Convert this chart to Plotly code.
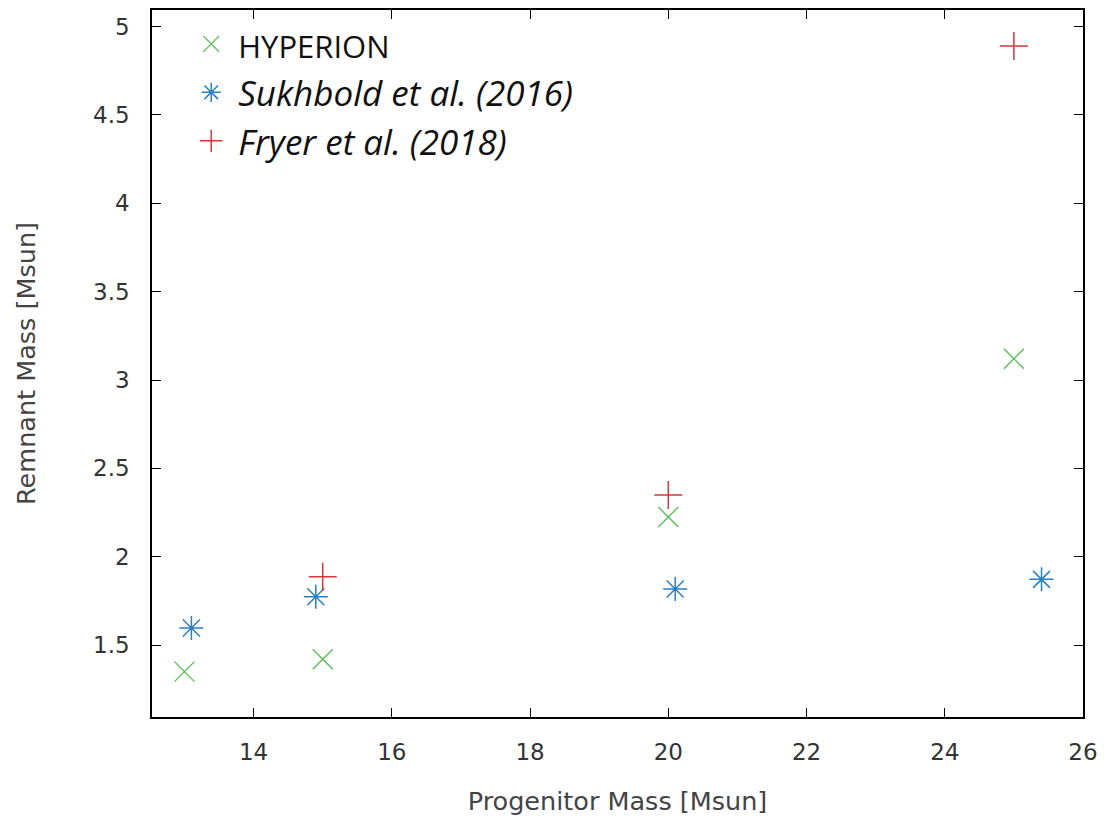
import plotly.graph_objects as go

# Data
hyp_x = [13, 15, 20, 25]
hyp_y = [1.35, 1.42, 2.225, 3.12]
suk_x = [13.1, 14.9, 20.1, 25.4]
suk_y = [1.597, 1.773, 1.817, 1.872]
fry_x = [15, 20, 25]
fry_y = [1.887, 2.349, 4.89]

series_names = ["HYPERION", "Sukhbold et al. (2016)", "Fryer et al. (2018)"]

x_ticks = [14, 16, 18, 20, 22, 24, 26]
y_ticks = [1.5, 2, 2.5, 3, 3.5, 4, 4.5, 5]
y_ticktext = ["1.5", "2", "2.5", "3", "3.5", "4", "4.5", "5"]

green = "#52bb52"
blue = "#2a7fc4"
red = "#d03a3a"

fig = go.Figure()
fig.add_trace(go.Scatter(
    x=hyp_x, y=hyp_y, mode="markers",
    name="<span style='font-size:31px'>" + series_names[0] + "</span>", legendgroup="a",
    marker=dict(symbol="x-thin", size=20, line=dict(color=green, width=1.3), color=green)))
fig.add_trace(go.Scatter(
    x=suk_x, y=suk_y, mode="markers", name="<i>" + series_names[1] + "</i>", legendgroup="b",
    marker=dict(symbol="asterisk", size=20, line=dict(color=blue, width=1.5), color=blue)))
fig.add_trace(go.Scatter(
    x=fry_x, y=fry_y, mode="markers", name="<i>" + series_names[2] + "</i>", legendgroup="c",
    marker=dict(symbol="cross-thin", size=20, line=dict(color=red, width=1.5), color=red)))

axis_common = dict(
    showline=True, linecolor="black", linewidth=1.5, mirror="ticks",
    ticks="inside", ticklen=9, tickwidth=1.3, tickcolor="black",
    showgrid=False, zeroline=False, automargin=False,
    tickfont=dict(family="DejaVu Sans", size=23, color="#333333"),
)

fig.update_layout(
    width=1104, height=819,
    margin=dict(l=152, r=21, t=10, b=102),
    plot_bgcolor="white", paper_bgcolor="white",
    xaxis=dict(range=[12.53, 26], tickvals=x_ticks,
               title=dict(text="Progenitor Mass [Msun]", standoff=28,
                          font=dict(family="DejaVu Sans", size=25.5, color="#444444")),
               ticklabelstandoff=14, **axis_common),
    yaxis=dict(range=[1.093, 5.094], tickvals=y_ticks, ticktext=y_ticktext,
               title=dict(text="Remnant Mass [Msun]", standoff=50,
                          font=dict(family="DejaVu Sans", size=25.5, color="#444444")),
               ticklabelstandoff=16, **axis_common),
    legend=dict(x=0.0346, y=0.9935, xanchor="left", yanchor="top",
                bgcolor="rgba(0,0,0,0)", borderwidth=0,
                font=dict(family="Open Sans", size=35, color="#111111"),
                tracegroupgap=0, itemwidth=44),
    showlegend=True,
)

fig.write_html("out.html")
